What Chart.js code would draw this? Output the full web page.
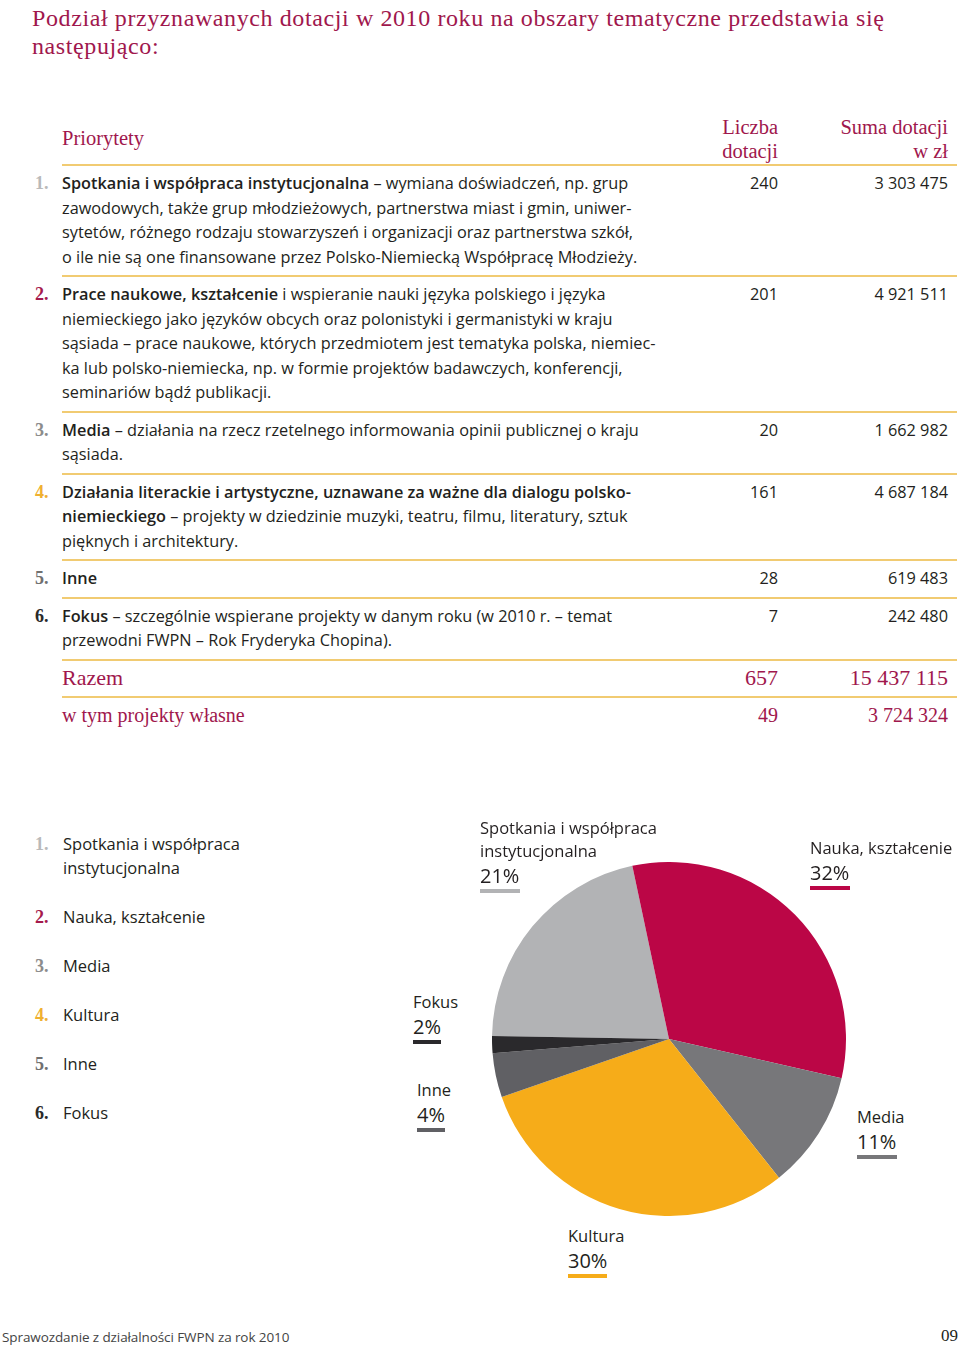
<!DOCTYPE html>
<html lang="pl">
<head>
<meta charset="utf-8">
<title>Podział dotacji 2010</title>
<script src="https://cdn.jsdelivr.net/npm/chart.js@4/dist/chart.umd.min.js"></script>
<style>
  html, body { margin: 0; padding: 0; background: #fff; }
  body { width: 960px; height: 1348px; position: relative; overflow: hidden; color: #231f20; font-family: "Open Sans", sans-serif; }
  .serif { font-family: "Liberation Serif", "Times New Roman", serif; }
  .crimson { color: #a0174d; }
  #title { position: absolute; left: 32px; top: 4px; font-size: 24px; line-height: 28px; letter-spacing: 0.6px; }
  #tbl { position: absolute; left: 62px; top: 117px; width: 895px; }
  .head { position: relative; height: 47px; border-bottom: 2px solid #f1cb72; font-size: 20.5px; line-height: 24px; }
  .head .h1 { position: absolute; left: 0; top: 9px; }
  .head .h2 { position: absolute; right: 179px; top: -2px; text-align: right; }
  .head .h3 { position: absolute; right: 9px; top: -2px; text-align: right; }
  .row { position: relative; padding: 5px 0 6px 0; border-bottom: 2px solid #f1cb72; font-size: 16.3px; line-height: 24.5px; white-space: nowrap; }
  .row b { font-weight: 600; }
  .row .num { position: absolute; left: -27px; top: 5px; font-family: "Liberation Serif", serif; font-weight: bold; font-size: 18px; }
  .row .cnt { position: absolute; right: 179px; top: 5px; }
  .row .sum { position: absolute; right: 9px; top: 5px; }
  .row.tot { font-family: "Liberation Serif", serif; font-size: 22px; color: #a0174d; }
  .row.own { font-family: "Liberation Serif", serif; font-size: 20px; color: #a0174d; border-bottom: none; }
  #legend { position: absolute; left: 35px; top: 832px; font-size: 16.5px; }
  #legend .item { position: absolute; left: 0; white-space: nowrap; line-height: 24px; }
  #legend .num { position: absolute; left: 0; top: 0; font-family: "Liberation Serif", serif; font-weight: bold; font-size: 18px; }
  #legend .txt { position: absolute; left: 28px; top: 0; }
  #pieBox { position: absolute; left: 492px; top: 862px; width: 354px; height: 354px; }
  .plab { position: absolute; white-space: nowrap; }
  .plab .nm { font-size: 16.5px; line-height: 23px; }
  .plab .pc { font-size: 20px; line-height: 27px; }
  .plab .bar { height: 4px; margin-top: 0; }
  #foot { position: absolute; left: 2px; top: 1328px; font-size: 13.5px; color: #444; letter-spacing: -0.1px; }
  #page { position: absolute; right: 2px; top: 1326px; font-size: 17px; }
</style>
</head>
<body>
<div id="title" class="serif crimson">Podział przyznawanych dotacji w 2010 roku na obszary tematyczne przedstawia się<br>następująco:</div>

<div id="tbl">
  <div class="head serif crimson">
    <div class="h1">Priorytety</div>
    <div class="h2">Liczba<br>dotacji</div>
    <div class="h3">Suma dotacji<br>w zł</div>
  </div>
</div>

<div id="legend"></div>
<div id="pieBox"><canvas id="pie"></canvas></div>
<div id="pieLabels"></div>

<div id="foot">Sprawozdanie z działalności FWPN za rok 2010</div>
<div id="page" class="serif">09</div>

<script>
// categories (short names used in the pie and its legend)
const categories = ["Spotkania i współpraca instytucjonalna", "Nauka, kształcenie", "Media", "Kultura", "Inne", "Fokus"];
// liczba dotacji
const grantCounts = [240, 201, 20, 161, 28, 7];
// suma dotacji w zł
const grantSums = [3303475, 4921511, 1662982, 4687184, 619483, 242480];
const totalCount = 657;
const totalSum = 15437115;
const ownCount = 49;
const ownSum = 3724324;

// table descriptions, line breaks as in the report
const descriptions = [
  "<b>Spotkania i współpraca instytucjonalna</b> – wymiana doświadczeń, np. grup<br>zawodowych, także grup młodzieżowych, partnerstwa miast i gmin, uniwer-<br>sytetów, różnego rodzaju stowarzyszeń i organizacji oraz partnerstwa szkół,<br>o ile nie są one finansowane przez Polsko-Niemiecką Współpracę Młodzieży.",
  "<b>Prace naukowe, kształcenie</b> i wspieranie nauki języka polskiego i języka<br>niemieckiego jako języków obcych oraz polonistyki i germanistyki w kraju<br>sąsiada – prace naukowe, których przedmiotem jest tematyka polska, niemiec-<br>ka lub polsko-niemiecka, np. w formie projektów badawczych, konferencji,<br>seminariów bądź publikacji.",
  "<b>Media</b> – działania na rzecz rzetelnego informowania opinii publicznej o kraju<br>sąsiada.",
  "<b>Działania literackie i artystyczne, uznawane za ważne dla dialogu polsko-<br>niemieckiego</b> – projekty w dziedzinie muzyki, teatru, filmu, literatury, sztuk<br>pięknych i architektury.",
  "<b>Inne</b>",
  "<b>Fokus</b> – szczególnie wspierane projekty w danym roku (w 2010 r. – temat<br>przewodni FWPN – Rok Fryderyka Chopina)."
];

const sliceColors = ["#b2b3b5", "#bb0646", "#77777a", "#f6ac19", "#606064", "#2a292c"];
const numColors = ["#b9b9b9", "#a51a4d", "#8c8c8c", "#efb030", "#707070", "#2a2a2a"];

const fmt = (n) => String(n).replace(/\B(?=(\d{3})+(?!\d))/g, " ");

// table
const tbl = document.getElementById("tbl");
descriptions.forEach((d, i) => {
  const row = document.createElement("div");
  row.className = "row";
  row.innerHTML = '<span class="num" style="color:' + numColors[i] + '">' + (i + 1) + '.</span>' +
    '<div class="desc">' + d + '</div>' +
    '<span class="cnt">' + grantCounts[i] + '</span>' +
    '<span class="sum">' + fmt(grantSums[i]) + '</span>';
  tbl.appendChild(row);
});
const tot = document.createElement("div");
tot.className = "row tot";
tot.innerHTML = '<div>Razem</div><span class="cnt">' + totalCount + '</span><span class="sum">' + fmt(totalSum) + '</span>';
tbl.appendChild(tot);
const own = document.createElement("div");
own.className = "row own";
own.innerHTML = '<div>w tym projekty własne</div><span class="cnt">' + ownCount + '</span><span class="sum">' + fmt(ownSum) + '</span>';
tbl.appendChild(own);

// numbered legend
const legendTops = [0, 73, 122, 171, 220, 269];
const legend = document.getElementById("legend");
categories.forEach((c, i) => {
  const it = document.createElement("div");
  it.className = "item";
  it.style.top = legendTops[i] + "px";
  const txt = i === 0 ? "Spotkania i współpraca<br>instytucjonalna" : c;
  it.innerHTML = '<span class="num" style="color:' + numColors[i] + '">' + (i + 1) + '.</span><span class="txt">' + txt + '</span>';
  legend.appendChild(it);
});

// labels around the pie
const total = grantSums.reduce((a, b) => a + b, 0);
const labelPos = [
  { x: 480, y: 816, w: 40, name: "Spotkania i współpraca<br>instytucjonalna" },
  { x: 810, y: 836, w: 40 },
  { x: 857, y: 1105, w: 40 },
  { x: 568, y: 1224, w: 39 },
  { x: 417, y: 1078, w: 28 },
  { x: 413, y: 990, w: 28 }
];
const pl = document.getElementById("pieLabels");
categories.forEach((c, i) => {
  const p = labelPos[i];
  const el = document.createElement("div");
  el.className = "plab";
  el.style.left = p.x + "px";
  el.style.top = p.y + "px";
  const pct = Math.round(grantSums[i] / total * 100);
  el.innerHTML = '<div class="nm">' + (p.name || c) + '</div><div class="pc">' + pct + '%</div>' +
    '<div class="bar" style="width:' + p.w + 'px;background:' + sliceColors[i] + '"></div>';
  pl.appendChild(el);
});

// pie
new Chart(document.getElementById("pie").getContext("2d"), {
  type: "pie",
  data: {
    labels: categories,
    datasets: [{
      data: grantSums,
      backgroundColor: sliceColors,
      borderWidth: 0
    }]
  },
  options: {
    responsive: true,
    maintainAspectRatio: false,
    animation: false,
    rotation: -89,
    layout: { padding: 0 },
    plugins: { legend: { display: false }, tooltip: { enabled: false } }
  }
});
</script>
</body>
</html>
